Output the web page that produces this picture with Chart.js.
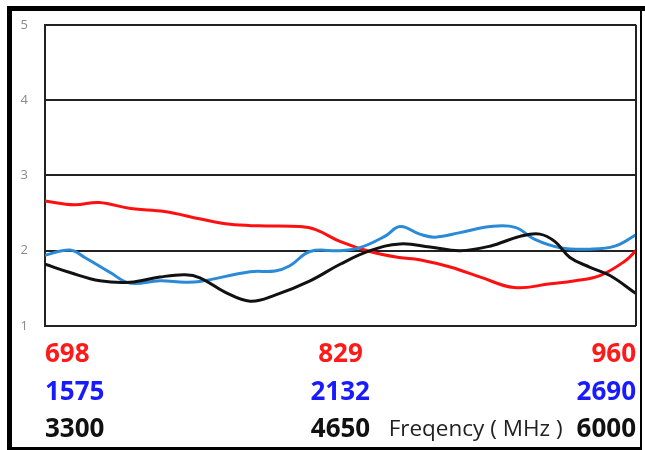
<!DOCTYPE html>
<html>
<head>
<meta charset="utf-8">
<script src="https://cdn.jsdelivr.net/npm/chart.js@4/dist/chart.umd.min.js"></script>
<style>
  html, body { margin: 0; padding: 0; background: #fff; overflow: hidden; }
</style>
</head>
<body>
<canvas id="chart" width="645" height="450"></canvas>
<script>
// band 1 (red) - frequency in MHz and value
let redFreq = [698, 711, 722, 736, 751, 767, 780, 793, 811, 818, 829, 842, 855, 864, 878, 891, 906, 922, 933, 944, 955, 960]
let redVal  = [2.66, 2.61, 2.64, 2.56, 2.52, 2.42, 2.35, 2.33, 2.32, 2.28, 2.12, 1.99, 1.91, 1.88, 1.78, 1.65, 1.51, 1.56, 1.60, 1.67, 1.86, 2.0]

// band 2 (blue)
let blueFreq = [1575, 1622, 1650, 1698, 1735, 1792, 1839, 1867, 1962, 2009, 2037, 2075, 2132, 2169, 2216, 2245, 2282, 2311, 2358, 2415, 2462, 2499, 2547, 2603, 2650, 2690]
let blueVal  = [1.94, 2.01, 1.91, 1.71, 1.57, 1.60, 1.58, 1.59, 1.72, 1.73, 1.80, 1.99, 2.0, 2.04, 2.19, 2.32, 2.22, 2.18, 2.24, 2.32, 2.31, 2.15, 2.04, 2.02, 2.06, 2.21]

// band 3 (black)
let blackFreq = [3300, 3414, 3551, 3688, 3825, 3940, 4008, 4122, 4237, 4351, 4511, 4648, 4785, 4922, 5059, 5196, 5333, 5470, 5561, 5630, 5698, 5790, 5881, 6000]
let blackVal  = [1.82, 1.71, 1.60, 1.58, 1.65, 1.68, 1.64, 1.45, 1.33, 1.41, 1.60, 1.82, 2.0, 2.09, 2.05, 2.0, 2.06, 2.19, 2.22, 2.12, 1.91, 1.78, 1.67, 1.43]

// tick labels of the three frequency rows
let redTicks = [698, 829, 960]
let blueTicks = [1575, 2132, 2690]
let blackTicks = [3300, 4650, 6000]
let yTicks = [1, 2, 3, 4, 5]
let axisTitle = "Freqency ( MHz )"

function pts(xs, ys) {
    return xs.map(function(x, i) { return {x: x, y: ys[i]} })
}

// one axis per band, all hung from the bottom of the plot (y = 1), each with its own gap
function bandAxis(ticks, color, pad) {
    return {
        type: "linear",
        position: { y: 1 },
        min: ticks[0],
        max: ticks[ticks.length - 1],
        afterBuildTicks: function(scale) {
            scale.ticks = ticks.map(function(v) { return {value: v} })
        },
        afterFit: function(scale) {
            // the gap is only vertical, don't let it eat the plot width
            scale.paddingLeft = 0
            scale.paddingRight = 0
        },
        grid: { display: false, drawTicks: false },
        border: { display: false },
        ticks: {
            color: color,
            align: "inner",
            autoSkip: false,
            maxRotation: 0,
            padding: pad,
            font: { family: "'Open Sans'", size: 26, weight: "bold", lineHeight: "30px" },
            callback: function(v) { return String(v) }
        }
    }
}

// frame round the picture, right edge of the plot and the axis title
let extras = {
    id: "extras",
    afterDraw: function(chart) {
        let ctx = chart.ctx
        let a = chart.chartArea
        ctx.save()
        ctx.strokeStyle = "#222"
        ctx.lineWidth = 2
        ctx.beginPath()
        ctx.moveTo(a.right, a.top)
        ctx.lineTo(a.right, a.bottom)
        ctx.stroke()

        ctx.fillStyle = "#000"
        ctx.fillRect(7, 6, 638, 5)   // top
        ctx.fillRect(7, 6, 5, 444)   // left
        ctx.fillRect(640, 6, 2, 444) // right
        ctx.fillRect(7, 447, 635, 3) // bottom

        ctx.font = "bold 26px 'Open Sans'"
        let w = ctx.measureText(String(blackTicks[2])).width
        ctx.font = "22.5px 'Open Sans'"
        ctx.fillStyle = "#222"
        ctx.textAlign = "right"
        ctx.textBaseline = "middle"
        ctx.fillText(axisTitle, a.right - w - 14, a.bottom + 89 + 15)
        ctx.restore()
    }
}

let ctx = document.getElementById("chart").getContext("2d")
let chart = new Chart(ctx, {
    type: "line",
    data: {
        datasets: [
            { data: pts(blackFreq, blackVal), xAxisID: "xBlack", borderColor: "#111", borderWidth: 3, pointRadius: 0, tension: 0.4 },
            { data: pts(blueFreq, blueVal), xAxisID: "xBlue", borderColor: "#2a8ad8", borderWidth: 3, pointRadius: 0, tension: 0.4 },
            { data: pts(redFreq, redVal), xAxisID: "xRed", borderColor: "#ff1010", borderWidth: 3, pointRadius: 0, tension: 0.4 }
        ]
    },
    options: {
        responsive: false,
        animation: false,
        layout: { padding: { top: 20, right: 9, left: 12, bottom: 124 } },
        plugins: { legend: { display: false }, tooltip: { enabled: false } },
        scales: {
            y: {
                min: yTicks[0],
                max: yTicks[yTicks.length - 1],
                afterBuildTicks: function(scale) {
                    scale.ticks = yTicks.map(function(v) { return {value: v} })
                },
                afterFit: function(scale) { scale.width = 33 },
                grid: { color: "#222", lineWidth: 2, drawTicks: false },
                border: { color: "#222", width: 2 },
                ticks: {
                    color: "#8a8a8a",
                    padding: 17,
                    font: { family: "'Open Sans'", size: 13 }
                }
            },
            xRed: bandAxis(redTicks, "#ff1a1a", 14),
            xBlue: bandAxis(blueTicks, "#1a1aff", 52),
            xBlack: bandAxis(blackTicks, "#111", 89)
        }
    },
    plugins: [extras]
})
</script>
</body>
</html>
